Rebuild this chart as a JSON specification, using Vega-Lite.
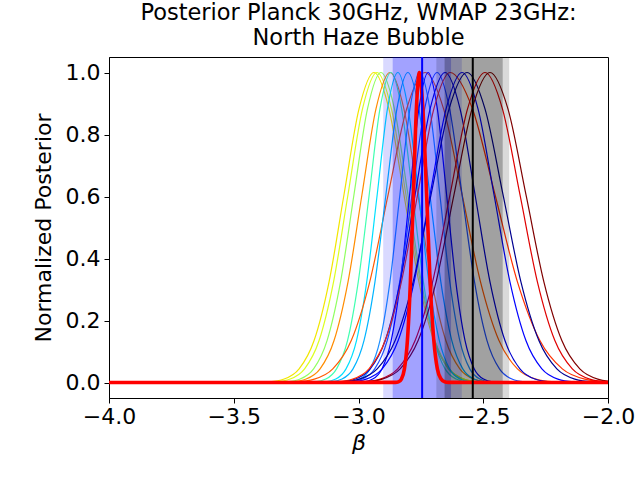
{
"$schema":"https://vega.github.io/schema/vega-lite/v6.json",
"width":499,"height":341,
"autosize":"none",
"padding":{"left":109,"top":57,"right":32,"bottom":82},
"title":{"text":["Posterior Planck 30GHz, WMAP 23GHz:","North Haze Bubble"],"fontSize":22.5,"font":"DejaVu Sans","fontWeight":"normal","anchor":"middle","offset":7,"lineHeight":25,"color":"black"},
"config":{"view":{"stroke":"black","strokeWidth":1},"font":"DejaVu Sans"},
"datasets":{
"thin":[
{"s":1,"x":-3.418,"y":0.0003},{"s":1,"x":-3.358,"y":0.0022},{"s":1,"x":-3.298,"y":0.0111},{"s":1,"x":-3.238,"y":0.0439},{"s":1,"x":-3.178,"y":0.1353},{"s":1,"x":-3.118,"y":0.3247},{"s":1,"x":-3.058,"y":0.6065},{"s":1,"x":-2.998,"y":0.8825},{"s":1,"x":-2.938,"y":1},{"s":1,"x":-2.878,"y":0.8825},{"s":1,"x":-2.818,"y":0.6065},{"s":1,"x":-2.758,"y":0.3247},{"s":1,"x":-2.698,"y":0.1353},{"s":1,"x":-2.638,"y":0.0439},{"s":1,"x":-2.578,"y":0.0111},{"s":1,"x":-2.518,"y":0.0022},{"s":1,"x":-2.458,"y":0.0003},
{"s":2,"x":-3.390,"y":0.0003},{"s":2,"x":-3.332,"y":0.0022},{"s":2,"x":-3.274,"y":0.0111},{"s":2,"x":-3.216,"y":0.0439},{"s":2,"x":-3.158,"y":0.1353},{"s":2,"x":-3.100,"y":0.3247},{"s":2,"x":-3.042,"y":0.6065},{"s":2,"x":-2.984,"y":0.8825},{"s":2,"x":-2.926,"y":1},{"s":2,"x":-2.868,"y":0.8825},{"s":2,"x":-2.810,"y":0.6065},{"s":2,"x":-2.752,"y":0.3247},{"s":2,"x":-2.694,"y":0.1353},{"s":2,"x":-2.636,"y":0.0439},{"s":2,"x":-2.578,"y":0.0111},{"s":2,"x":-2.520,"y":0.0022},{"s":2,"x":-2.462,"y":0.0003},
{"s":3,"x":-3.342,"y":0.0003},{"s":3,"x":-3.288,"y":0.0022},{"s":3,"x":-3.234,"y":0.0111},{"s":3,"x":-3.180,"y":0.0439},{"s":3,"x":-3.126,"y":0.1353},{"s":3,"x":-3.072,"y":0.3247},{"s":3,"x":-3.018,"y":0.6065},{"s":3,"x":-2.964,"y":0.8825},{"s":3,"x":-2.910,"y":1},{"s":3,"x":-2.856,"y":0.8825},{"s":3,"x":-2.802,"y":0.6065},{"s":3,"x":-2.748,"y":0.3247},{"s":3,"x":-2.694,"y":0.1353},{"s":3,"x":-2.640,"y":0.0439},{"s":3,"x":-2.586,"y":0.0111},{"s":3,"x":-2.532,"y":0.0022},{"s":3,"x":-2.478,"y":0.0003},
{"s":4,"x":-3.322,"y":0.0003},{"s":4,"x":-3.266,"y":0.0022},{"s":4,"x":-3.210,"y":0.0111},{"s":4,"x":-3.154,"y":0.0439},{"s":4,"x":-3.098,"y":0.1353},{"s":4,"x":-3.042,"y":0.3247},{"s":4,"x":-2.986,"y":0.6065},{"s":4,"x":-2.930,"y":0.8825},{"s":4,"x":-2.874,"y":1},{"s":4,"x":-2.818,"y":0.8825},{"s":4,"x":-2.762,"y":0.6065},{"s":4,"x":-2.706,"y":0.3247},{"s":4,"x":-2.650,"y":0.1353},{"s":4,"x":-2.594,"y":0.0439},{"s":4,"x":-2.538,"y":0.0111},{"s":4,"x":-2.482,"y":0.0022},{"s":4,"x":-2.426,"y":0.0003},
{"s":5,"x":-3.218,"y":0.0003},{"s":5,"x":-3.175,"y":0.0022},{"s":5,"x":-3.131,"y":0.0111},{"s":5,"x":-3.088,"y":0.0439},{"s":5,"x":-3.044,"y":0.1353},{"s":5,"x":-3.001,"y":0.3247},{"s":5,"x":-2.957,"y":0.6065},{"s":5,"x":-2.914,"y":0.8825},{"s":5,"x":-2.870,"y":1},{"s":5,"x":-2.827,"y":0.8825},{"s":5,"x":-2.783,"y":0.6065},{"s":5,"x":-2.740,"y":0.3247},{"s":5,"x":-2.696,"y":0.1353},{"s":5,"x":-2.653,"y":0.0439},{"s":5,"x":-2.609,"y":0.0111},{"s":5,"x":-2.566,"y":0.0022},{"s":5,"x":-2.522,"y":0.0003},
{"s":6,"x":-3.174,"y":0.0003},{"s":6,"x":-3.133,"y":0.0022},{"s":6,"x":-3.091,"y":0.0111},{"s":6,"x":-3.050,"y":0.0439},{"s":6,"x":-3.008,"y":0.1353},{"s":6,"x":-2.967,"y":0.3247},{"s":6,"x":-2.925,"y":0.6065},{"s":6,"x":-2.884,"y":0.8825},{"s":6,"x":-2.842,"y":1},{"s":6,"x":-2.801,"y":0.8825},{"s":6,"x":-2.759,"y":0.6065},{"s":6,"x":-2.718,"y":0.3247},{"s":6,"x":-2.676,"y":0.1353},{"s":6,"x":-2.635,"y":0.0439},{"s":6,"x":-2.593,"y":0.0111},{"s":6,"x":-2.552,"y":0.0022},{"s":6,"x":-2.510,"y":0.0003},
{"s":7,"x":-3.325,"y":0.0003},{"s":7,"x":-3.251,"y":0.0022},{"s":7,"x":-3.177,"y":0.0111},{"s":7,"x":-3.103,"y":0.0439},{"s":7,"x":-3.029,"y":0.1353},{"s":7,"x":-2.955,"y":0.3247},{"s":7,"x":-2.881,"y":0.6065},{"s":7,"x":-2.807,"y":0.8825},{"s":7,"x":-2.733,"y":1},{"s":7,"x":-2.659,"y":0.8825},{"s":7,"x":-2.585,"y":0.6065},{"s":7,"x":-2.511,"y":0.3247},{"s":7,"x":-2.437,"y":0.1353},{"s":7,"x":-2.363,"y":0.0439},{"s":7,"x":-2.289,"y":0.0111},{"s":7,"x":-2.215,"y":0.0022},{"s":7,"x":-2.141,"y":0.0003},
{"s":8,"x":-3.154,"y":0.0003},{"s":8,"x":-3.110,"y":0.0022},{"s":8,"x":-3.066,"y":0.0111},{"s":8,"x":-3.022,"y":0.0439},{"s":8,"x":-2.978,"y":0.1353},{"s":8,"x":-2.934,"y":0.3247},{"s":8,"x":-2.890,"y":0.6065},{"s":8,"x":-2.846,"y":0.8825},{"s":8,"x":-2.802,"y":1},{"s":8,"x":-2.758,"y":0.8825},{"s":8,"x":-2.714,"y":0.6065},{"s":8,"x":-2.670,"y":0.3247},{"s":8,"x":-2.626,"y":0.1353},{"s":8,"x":-2.582,"y":0.0439},{"s":8,"x":-2.538,"y":0.0111},{"s":8,"x":-2.494,"y":0.0022},{"s":8,"x":-2.450,"y":0.0003},
{"s":9,"x":-3.074,"y":0.0003},{"s":9,"x":-3.034,"y":0.0022},{"s":9,"x":-2.994,"y":0.0111},{"s":9,"x":-2.954,"y":0.0439},{"s":9,"x":-2.914,"y":0.1353},{"s":9,"x":-2.874,"y":0.3247},{"s":9,"x":-2.834,"y":0.6065},{"s":9,"x":-2.794,"y":0.8825},{"s":9,"x":-2.754,"y":1},{"s":9,"x":-2.714,"y":0.8825},{"s":9,"x":-2.674,"y":0.6065},{"s":9,"x":-2.634,"y":0.3247},{"s":9,"x":-2.594,"y":0.1353},{"s":9,"x":-2.554,"y":0.0439},{"s":9,"x":-2.514,"y":0.0111},{"s":9,"x":-2.474,"y":0.0022},{"s":9,"x":-2.434,"y":0.0003},
{"s":10,"x":-3.017,"y":0.0003},{"s":10,"x":-2.980,"y":0.0022},{"s":10,"x":-2.943,"y":0.0111},{"s":10,"x":-2.906,"y":0.0439},{"s":10,"x":-2.869,"y":0.1353},{"s":10,"x":-2.832,"y":0.3247},{"s":10,"x":-2.795,"y":0.6065},{"s":10,"x":-2.758,"y":0.8825},{"s":10,"x":-2.721,"y":1},{"s":10,"x":-2.684,"y":0.8825},{"s":10,"x":-2.647,"y":0.6065},{"s":10,"x":-2.610,"y":0.3247},{"s":10,"x":-2.573,"y":0.1353},{"s":10,"x":-2.536,"y":0.0439},{"s":10,"x":-2.499,"y":0.0111},{"s":10,"x":-2.462,"y":0.0022},{"s":10,"x":-2.425,"y":0.0003},
{"s":11,"x":-3.085,"y":0.0003},{"s":11,"x":-3.035,"y":0.0022},{"s":11,"x":-2.985,"y":0.0111},{"s":11,"x":-2.935,"y":0.0439},{"s":11,"x":-2.885,"y":0.1353},{"s":11,"x":-2.835,"y":0.3247},{"s":11,"x":-2.785,"y":0.6065},{"s":11,"x":-2.735,"y":0.8825},{"s":11,"x":-2.685,"y":1},{"s":11,"x":-2.635,"y":0.8825},{"s":11,"x":-2.585,"y":0.6065},{"s":11,"x":-2.535,"y":0.3247},{"s":11,"x":-2.485,"y":0.1353},{"s":11,"x":-2.435,"y":0.0439},{"s":11,"x":-2.385,"y":0.0111},{"s":11,"x":-2.335,"y":0.0022},{"s":11,"x":-2.285,"y":0.0003},
{"s":12,"x":-3.133,"y":0.0003},{"s":12,"x":-3.073,"y":0.0022},{"s":12,"x":-3.013,"y":0.0111},{"s":12,"x":-2.953,"y":0.0439},{"s":12,"x":-2.893,"y":0.1353},{"s":12,"x":-2.833,"y":0.3247},{"s":12,"x":-2.773,"y":0.6065},{"s":12,"x":-2.713,"y":0.8825},{"s":12,"x":-2.653,"y":1},{"s":12,"x":-2.593,"y":0.8825},{"s":12,"x":-2.533,"y":0.6065},{"s":12,"x":-2.473,"y":0.3247},{"s":12,"x":-2.413,"y":0.1353},{"s":12,"x":-2.353,"y":0.0439},{"s":12,"x":-2.293,"y":0.0111},{"s":12,"x":-2.233,"y":0.0022},{"s":12,"x":-2.173,"y":0.0003},
{"s":13,"x":-3.153,"y":0.0003},{"s":13,"x":-3.088,"y":0.0022},{"s":13,"x":-3.023,"y":0.0111},{"s":13,"x":-2.958,"y":0.0439},{"s":13,"x":-2.893,"y":0.1353},{"s":13,"x":-2.828,"y":0.3247},{"s":13,"x":-2.763,"y":0.6065},{"s":13,"x":-2.698,"y":0.8825},{"s":13,"x":-2.633,"y":1},{"s":13,"x":-2.543,"y":0.8825},{"s":13,"x":-2.453,"y":0.6065},{"s":13,"x":-2.363,"y":0.3247},{"s":13,"x":-2.273,"y":0.1353},{"s":13,"x":-2.183,"y":0.0439},{"s":13,"x":-2.093,"y":0.0111},{"s":13,"x":-2.003,"y":0.0022},{"s":13,"x":-1.913,"y":0.0003},
{"s":14,"x":-3.097,"y":0.0003},{"s":14,"x":-3.033,"y":0.0022},{"s":14,"x":-2.969,"y":0.0111},{"s":14,"x":-2.905,"y":0.0439},{"s":14,"x":-2.841,"y":0.1353},{"s":14,"x":-2.777,"y":0.3247},{"s":14,"x":-2.713,"y":0.6065},{"s":14,"x":-2.649,"y":0.8825},{"s":14,"x":-2.585,"y":1},{"s":14,"x":-2.521,"y":0.8825},{"s":14,"x":-2.457,"y":0.6065},{"s":14,"x":-2.393,"y":0.3247},{"s":14,"x":-2.329,"y":0.1353},{"s":14,"x":-2.265,"y":0.0439},{"s":14,"x":-2.201,"y":0.0111},{"s":14,"x":-2.137,"y":0.0022},{"s":14,"x":-2.073,"y":0.0003},
{"s":15,"x":-3.141,"y":0.0003},{"s":15,"x":-3.069,"y":0.0022},{"s":15,"x":-2.997,"y":0.0111},{"s":15,"x":-2.925,"y":0.0439},{"s":15,"x":-2.853,"y":0.1353},{"s":15,"x":-2.781,"y":0.3247},{"s":15,"x":-2.709,"y":0.6065},{"s":15,"x":-2.637,"y":0.8825},{"s":15,"x":-2.565,"y":1},{"s":15,"x":-2.493,"y":0.8825},{"s":15,"x":-2.421,"y":0.6065},{"s":15,"x":-2.349,"y":0.3247},{"s":15,"x":-2.277,"y":0.1353},{"s":15,"x":-2.205,"y":0.0439},{"s":15,"x":-2.133,"y":0.0111},{"s":15,"x":-2.061,"y":0.0022},{"s":15,"x":-1.989,"y":0.0003},
{"s":16,"x":-3.053,"y":0.0003},{"s":16,"x":-2.983,"y":0.0022},{"s":16,"x":-2.913,"y":0.0111},{"s":16,"x":-2.843,"y":0.0439},{"s":16,"x":-2.773,"y":0.1353},{"s":16,"x":-2.703,"y":0.3247},{"s":16,"x":-2.633,"y":0.6065},{"s":16,"x":-2.563,"y":0.8825},{"s":16,"x":-2.493,"y":1},{"s":16,"x":-2.423,"y":0.8825},{"s":16,"x":-2.353,"y":0.6065},{"s":16,"x":-2.283,"y":0.3247},{"s":16,"x":-2.213,"y":0.1353},{"s":16,"x":-2.143,"y":0.0439},{"s":16,"x":-2.073,"y":0.0111},{"s":16,"x":-2.003,"y":0.0022},{"s":16,"x":-1.933,"y":0.0003},
{"s":17,"x":-3.049,"y":0.0003},{"s":17,"x":-2.977,"y":0.0022},{"s":17,"x":-2.905,"y":0.0111},{"s":17,"x":-2.833,"y":0.0439},{"s":17,"x":-2.761,"y":0.1353},{"s":17,"x":-2.689,"y":0.3247},{"s":17,"x":-2.617,"y":0.6065},{"s":17,"x":-2.545,"y":0.8825},{"s":17,"x":-2.473,"y":1},{"s":17,"x":-2.401,"y":0.8825},{"s":17,"x":-2.329,"y":0.6065},{"s":17,"x":-2.257,"y":0.3247},{"s":17,"x":-2.185,"y":0.1353},{"s":17,"x":-2.113,"y":0.0439},{"s":17,"x":-2.041,"y":0.0111},{"s":17,"x":-1.969,"y":0.0022},{"s":17,"x":-1.897,"y":0.0003}
],
"thick":[
{"x":-4.0,"y":0},{"x":-2.852,"y":0.0003},{"x":-2.840,"y":0.0022},{"x":-2.828,"y":0.0111},{"x":-2.816,"y":0.0439},{"x":-2.804,"y":0.1353},{"x":-2.792,"y":0.3247},{"x":-2.780,"y":0.6065},{"x":-2.768,"y":0.8825},{"x":-2.756,"y":1},{"x":-2.742,"y":0.8825},{"x":-2.727,"y":0.6065},{"x":-2.713,"y":0.3247},{"x":-2.698,"y":0.1353},{"x":-2.684,"y":0.0439},{"x":-2.669,"y":0.0111},{"x":-2.655,"y":0.0022},{"x":-2.640,"y":0.0003},{"x":-2.0,"y":0}
],
"bands":[
{"band":"blue_outer","lo":-2.901,"hi":-2.586},
{"band":"blue_inner","lo":-2.863,"hi":-2.629},
{"band":"gray_outer","lo":-2.688,"hi":-2.396},
{"band":"gray_inner","lo":-2.655,"hi":-2.422}
],
"lines":[
{"name":"blue","x":-2.745},
{"name":"black","x":-2.542}
]
},
"layer":[
{"data":{"name":"thin"},
 "mark":{"type":"line","interpolate":"monotone","strokeWidth":1.2,"clip":true},
 "encoding":{
  "x":{"field":"x","type":"quantitative","scale":{"domain":[-4,-2],"nice":false,"zero":false},
   "axis":{"values":[-4,-3.5,-3,-2.5,-2],"labelExpr":"replace(format(datum.value,'.1f'),'-','\u2212')","labelFlush":false,"labelFontSize":22,"labelColor":"black","labelFont":"DejaVu Sans","tickColor":"black","tickSize":5,"domainColor":"black","grid":false,"labelPadding":3,"title":"β","titleFontSize":22,"titleFontStyle":"italic","titleFontWeight":"normal","titleFont":"DejaVu Sans","titleColor":"black","titlePadding":5}},
  "y":{"field":"y","type":"quantitative","scale":{"domain":[-0.05,1.05],"nice":false,"zero":false},
   "axis":{"values":[0,0.2,0.4,0.6,0.8,1.0],"format":".1f","labelFlush":false,"labelFontSize":22,"labelColor":"black","labelFont":"DejaVu Sans","tickColor":"black","tickSize":5,"domainColor":"black","grid":false,"labelPadding":4,"title":"Normalized Posterior","titleFontSize":22,"titleFontWeight":"normal","titleFont":"DejaVu Sans","titleColor":"black","titlePadding":10}},
  "color":{"field":"s","type":"nominal","legend":null,
   "scale":{"domain":[1,2,3,4,5,6,7,8,9,10,11,12,13,14,15,16,17],
    "range":["#f2e600","#dcff20","#90ff60","#ff8c00","#40ffb0","#00e0ff","#ff5a00","#00b4ff","#1e90ff","#0000ff","#2050ff","#0000d0","#ff3000","#0000ff","#000090","#e00000","#800000"]}},
  "detail":{"field":"s","type":"nominal"}
 }},
{"data":{"name":"bands"},"transform":[{"filter":"datum.band=='blue_outer'"}],
 "mark":{"type":"rect","color":"#0000ff","opacity":0.15},
 "encoding":{"x":{"field":"lo","type":"quantitative"},"x2":{"field":"hi"}}},
{"data":{"name":"bands"},"transform":[{"filter":"datum.band=='blue_inner'"}],
 "mark":{"type":"rect","color":"#0000ff","opacity":0.25},
 "encoding":{"x":{"field":"lo","type":"quantitative"},"x2":{"field":"hi"}}},
{"data":{"name":"bands"},"transform":[{"filter":"datum.band=='gray_outer'"}],
 "mark":{"type":"rect","color":"#000000","opacity":0.15},
 "encoding":{"x":{"field":"lo","type":"quantitative"},"x2":{"field":"hi"}}},
{"data":{"name":"bands"},"transform":[{"filter":"datum.band=='gray_inner'"}],
 "mark":{"type":"rect","color":"#000000","opacity":0.26},
 "encoding":{"x":{"field":"lo","type":"quantitative"},"x2":{"field":"hi"}}},
{"data":{"name":"thick"},
 "mark":{"type":"line","interpolate":"monotone","strokeWidth":3.6,"color":"#ff0000","clip":true},
 "encoding":{"x":{"field":"x","type":"quantitative"},"y":{"field":"y","type":"quantitative"}}},
{"data":{"name":"lines"},"transform":[{"filter":"datum.name=='blue'"}],
 "mark":{"type":"rule","color":"#0000ff","strokeWidth":2},
 "encoding":{"x":{"field":"x","type":"quantitative"}}},
{"data":{"name":"lines"},"transform":[{"filter":"datum.name=='black'"}],
 "mark":{"type":"rule","color":"#000000","strokeWidth":2},
 "encoding":{"x":{"field":"x","type":"quantitative"}}}
]
}
